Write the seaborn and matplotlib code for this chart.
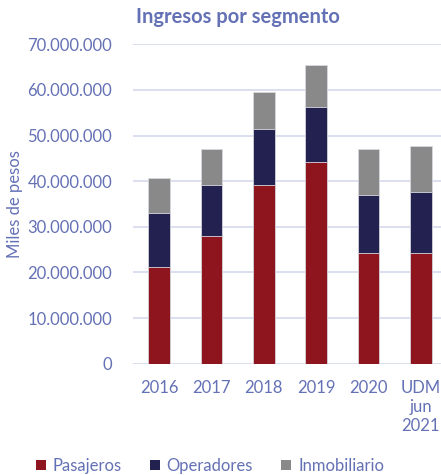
import matplotlib
matplotlib.use("Agg")
import matplotlib.pyplot as plt
import seaborn as sns
import pandas as pd
import numpy as np
from matplotlib.patches import Patch
from matplotlib.ticker import FuncFormatter

categories = ["2016", "2017", "2018", "2019", "2020", "UDM\njun\n2021"]
pasajeros = [21.3e6, 27.9e6, 39.2e6, 44.3e6, 24.3e6, 24.3e6]
operadores = [11.7e6, 11.2e6, 12.3e6, 12.0e6, 12.7e6, 13.4e6]
inmobiliario = [7.6e6, 7.9e6, 8.1e6, 9.1e6, 10.0e6, 10.1e6]
series_names = ["Pasajeros", "Operadores", "Inmobiliario"]
colors = ["#8E141D", "#23214F", "#898989"]
text_color = "#6471B5"
grid_color = "#D9DCEE"

sns.set_theme(style="white")
plt.rcParams["font.family"] = ["Lato", "DejaVu Sans"]

df = pd.DataFrame({"cat": categories, "Pasajeros": pasajeros,
                   "Operadores": operadores, "Inmobiliario": inmobiliario})
df["c1"] = df["Pasajeros"]
df["c2"] = df["c1"] + df["Operadores"]
df["c3"] = df["c2"] + df["Inmobiliario"]

fig = plt.figure(figsize=(4.41, 4.75), dpi=100)
ax = fig.add_axes([133 / 441, 1 - 363.7 / 475, 314 / 441, (363.7 - 44.3) / 475])

for col, c in zip(["c3", "c2", "c1"], colors[::-1]):
    sns.barplot(data=df, x="cat", y=col, color=c, width=0.41, ax=ax,
                edgecolor="#D8D8E0", linewidth=0.6, saturation=1)

ax.set_ylim(0, 70e6)
ax.set_yticks(np.arange(0, 70e6 + 1, 10e6))
ax.yaxis.set_major_formatter(FuncFormatter(lambda v, p: f"{int(v):,}".replace(",", ".")))
ax.grid(axis="y", color=grid_color, linewidth=1.3)
ax.set_axisbelow(True)
for s in ax.spines.values():
    s.set_visible(False)
ax.tick_params(axis="both", length=0, labelsize=12, labelcolor=text_color)
ax.tick_params(axis="x", pad=12)
ax.tick_params(axis="y", pad=15)
ax.set_xlabel("")
ax.set_ylabel("Miles de pesos", color=text_color, fontsize=12)
ax.yaxis.set_label_coords(-0.35, 0.5)

fig.text(238 / 441, 1 - 17 / 475, "Ingresos por segmento", ha="center", va="center",
         fontsize=14.5, fontweight="bold", color=text_color)

handles = [Patch(facecolor=c, edgecolor="none") for c in colors]
leg = fig.legend(handles, series_names, loc="center", bbox_to_anchor=(210 / 441, 1 - 466 / 475),
                 ncol=3, frameon=False, fontsize=12, handlelength=0.6, handleheight=0.6,
                 handletextpad=0.4, columnspacing=1.7, labelcolor=text_color)

fig.savefig("out.png", dpi=100)
